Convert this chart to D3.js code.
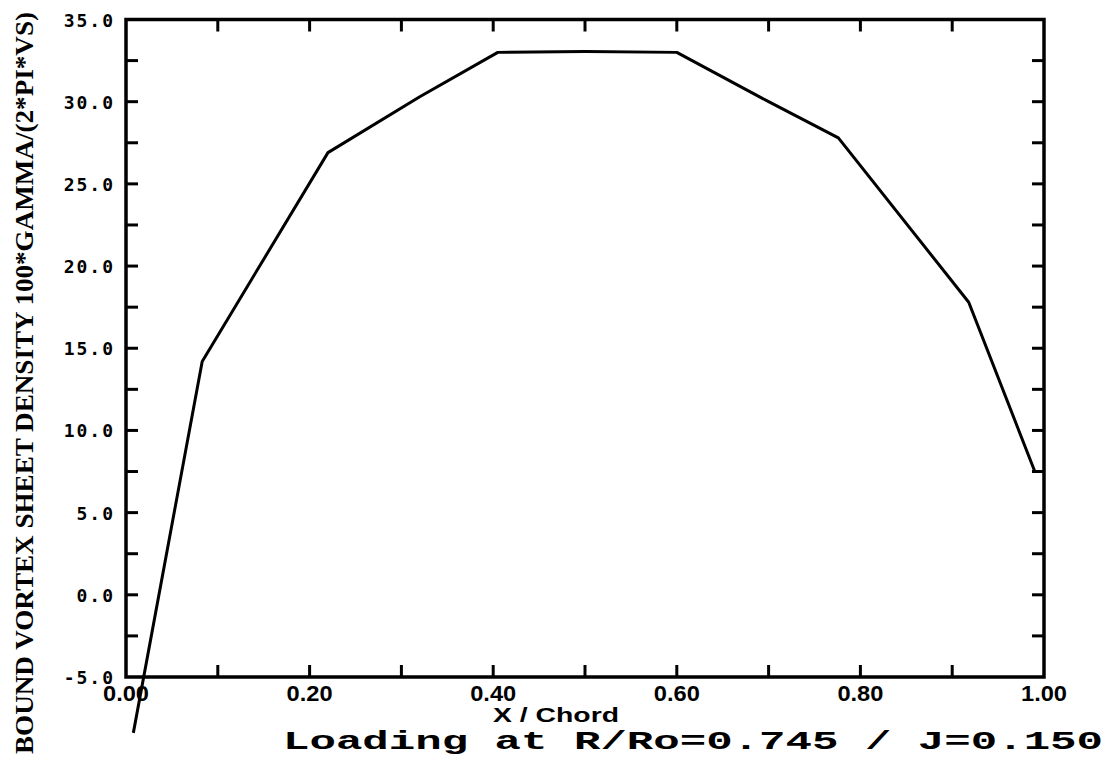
<!DOCTYPE html>
<html>
<head>
<meta charset="utf-8">
<script src="https://cdn.jsdelivr.net/npm/d3@7"></script>
<style>
  html, body { margin: 0; padding: 0; background: #fff; }
  svg { display: block; }
</style>
</head>
<body>
<div id="chart"></div>
<script>
// curve
const xChord = [0.008, 0.083, 0.220, 0.320, 0.405, 0.500, 0.600, 0.700, 0.776, 0.918, 0.990, 0.996];
const density = [-8.4, 14.2, 26.9, 30.3, 33.0, 33.05, 33.0, 30.0, 27.8, 17.8, 7.5, 7.5];

// axes
const xTickValues = [0.1, 0.2, 0.3, 0.4, 0.5, 0.6, 0.7, 0.8, 0.9];
const xLabelValues = [0, 0.2, 0.4, 0.6, 0.8, 1.0];
const xTickLabels = ["0.00", "0.20", "0.40", "0.60", "0.80", "1.00"];
const yTickValues = [-2.5, 0, 2.5, 5, 7.5, 10, 12.5, 15, 17.5, 20, 22.5, 25, 27.5, 30, 32.5];
const yLabelValues = [-5, 0, 5, 10, 15, 20, 25, 30, 35];
const yTickLabels = ["-5.0", "0.0", "5.0", "10.0", "15.0", "20.0", "25.0", "30.0", "35.0"];

const xTitle = "X / Chord";
const yTitle = "BOUND VORTEX SHEET DENSITY 100*GAMMA/(2*PI*VS)";
const caption = "Loading at R/Ro=0.745 / J=0.150";

const width = 1118, height = 764;
const margin = { left: 126, right: 1044, top: 19.5, bottom: 677 };

const svg = d3.select('#chart').append('svg')
  .attr('width', width)
  .attr('height', height);

const x = d3.scaleLinear().domain([0, 1]).range([margin.left, margin.right]);
const y = d3.scaleLinear().domain([-5, 35]).range([margin.bottom, margin.top]);

// frame
svg.append('rect')
  .attr('x', margin.left).attr('y', margin.top)
  .attr('width', margin.right - margin.left).attr('height', margin.bottom - margin.top)
  .style('fill', 'none').style('stroke', '#000').style('stroke-width', 3.5);

// inward ticks on all four sides
const tickLen = 12;
const tickStyle = sel => sel.style('stroke', '#000').style('stroke-width', 3);

svg.append('g').selectAll('line').data(xTickValues).enter().append('line')
  .attr('x1', d => x(d)).attr('x2', d => x(d))
  .attr('y1', margin.bottom).attr('y2', margin.bottom - tickLen).call(tickStyle);
svg.append('g').selectAll('line').data(xTickValues).enter().append('line')
  .attr('x1', d => x(d)).attr('x2', d => x(d))
  .attr('y1', margin.top).attr('y2', margin.top + tickLen).call(tickStyle);
svg.append('g').selectAll('line').data(yTickValues).enter().append('line')
  .attr('x1', margin.left).attr('x2', margin.left + tickLen)
  .attr('y1', d => y(d)).attr('y2', d => y(d)).call(tickStyle);
svg.append('g').selectAll('line').data(yTickValues).enter().append('line')
  .attr('x1', margin.right).attr('x2', margin.right - tickLen)
  .attr('y1', d => y(d)).attr('y2', d => y(d)).call(tickStyle);

// y labels
svg.append('g').selectAll('text').data(yLabelValues).enter().append('text')
  .attr('x', 115)
  .attr('y', d => y(d) + 7)
  .attr('text-anchor', 'end')
  .style('font-family', '"DejaVu Sans Mono", monospace')
  .style('font-weight', 'bold')
  .style('font-size', '18px')
  .style('letter-spacing', '2px')
  .text((d, i) => yTickLabels[i]);

// x labels
svg.append('g').selectAll('text').data(xLabelValues).enter().append('text')
  .attr('x', d => x(d))
  .attr('y', 701)
  .attr('text-anchor', 'middle')
  .attr('textLength', 46)
  .attr('lengthAdjust', 'spacingAndGlyphs')
  .style('font-family', '"Liberation Sans", Arial, sans-serif')
  .style('font-weight', 'bold')
  .style('font-size', '22px')
  .text((d, i) => xTickLabels[i]);

// x title
svg.append('text')
  .attr('x', 556).attr('y', 722)
  .attr('text-anchor', 'middle')
  .attr('textLength', 126)
  .attr('lengthAdjust', 'spacingAndGlyphs')
  .style('font-family', '"Liberation Sans", Arial, sans-serif')
  .style('font-weight', 'bold')
  .style('font-size', '21px')
  .text(xTitle);

// caption
svg.append('text')
  .attr('x', 283).attr('y', 749)
  .attr('textLength', 820)
  .attr('lengthAdjust', 'spacingAndGlyphs')
  .style('font-family', '"Liberation Mono", "Courier New", monospace')
  .style('font-weight', 'bold')
  .style('font-size', '26px')
  .text(caption);

// y title
svg.append('text')
  .attr('transform', 'translate(33, 383) rotate(-90)')
  .attr('text-anchor', 'middle')
  .attr('textLength', 742)
  .attr('lengthAdjust', 'spacingAndGlyphs')
  .style('font-family', '"Liberation Serif", "Times New Roman", serif')
  .style('font-weight', 'bold')
  .style('font-size', '26px')
  .text(yTitle);

// data line
const line = d3.line()
  .x((d, i) => x(xChord[i]))
  .y(d => y(d));

svg.append('path')
  .datum(density)
  .attr('d', line)
  .style('fill', 'none')
  .style('stroke', '#000')
  .style('stroke-width', 3)
  .style('stroke-linejoin', 'round');
</script>
</body>
</html>
